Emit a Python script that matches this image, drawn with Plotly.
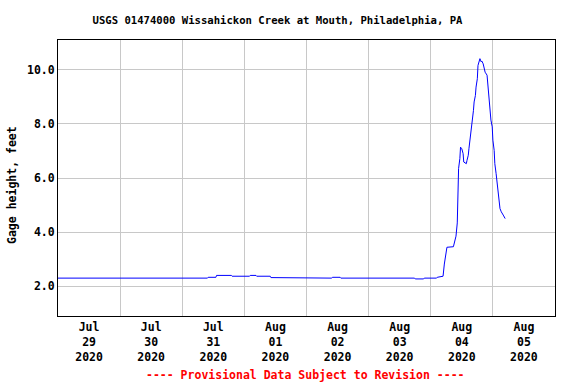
import plotly.graph_objects as go

# Gage height data (feet)
times = [
    "2020-07-29 00:00", "2020-07-31 09:45", "2020-07-31 10:00", "2020-07-31 13:00", "2020-07-31 13:15",
    "2020-07-31 19:00", "2020-07-31 19:15", "2020-08-01 02:00", "2020-08-01 02:15", "2020-08-01 04:30",
    "2020-08-01 04:45", "2020-08-01 10:00", "2020-08-01 10:15", "2020-08-01 17:30", "2020-08-01 17:45",
    "2020-08-02 09:45", "2020-08-02 10:00", "2020-08-02 13:00", "2020-08-02 13:15", "2020-08-03 17:45",
    "2020-08-03 18:00", "2020-08-03 21:15", "2020-08-03 21:30", "2020-08-04 02:15", "2020-08-04 02:30",
    "2020-08-04 04:45", "2020-08-04 05:15", "2020-08-04 06:15", "2020-08-04 08:45", "2020-08-04 09:45",
    "2020-08-04 10:15", "2020-08-04 10:30", "2020-08-04 10:45", "2020-08-04 11:15", "2020-08-04 11:30",
    "2020-08-04 12:00", "2020-08-04 12:30", "2020-08-04 12:45", "2020-08-04 13:45", "2020-08-04 14:00",
    "2020-08-04 14:30", "2020-08-04 14:45", "2020-08-04 15:15", "2020-08-04 15:30", "2020-08-04 16:00",
    "2020-08-04 16:30", "2020-08-04 16:45", "2020-08-04 17:15", "2020-08-04 17:30", "2020-08-04 18:00",
    "2020-08-04 18:15", "2020-08-04 18:45", "2020-08-04 19:00", "2020-08-04 19:30", "2020-08-04 19:45",
    "2020-08-04 20:15", "2020-08-04 20:30", "2020-08-04 21:00", "2020-08-04 21:45", "2020-08-04 22:00",
    "2020-08-04 22:15", "2020-08-04 22:30", "2020-08-04 23:00", "2020-08-04 23:15", "2020-08-04 23:45",
    "2020-08-05 00:00", "2020-08-05 00:30", "2020-08-05 00:45", "2020-08-05 01:15", "2020-08-05 01:45",
    "2020-08-05 02:00", "2020-08-05 02:30", "2020-08-05 02:45", "2020-08-05 03:15", "2020-08-05 03:30",
    "2020-08-05 04:00", "2020-08-05 04:45",
]
heights = [
    2.30, 2.30, 2.33, 2.33, 2.40,
    2.40, 2.37, 2.37, 2.40, 2.40,
    2.37, 2.37, 2.32, 2.32, 2.30,
    2.30, 2.33, 2.33, 2.30, 2.30,
    2.27, 2.27, 2.30, 2.30, 2.33,
    2.37, 2.82, 3.44, 3.46, 3.85,
    4.34, 5.06, 6.35, 6.72, 7.14,
    7.08, 6.90, 6.59, 6.53, 6.65,
    6.84, 7.08, 7.45, 7.82, 8.19,
    8.50, 8.81, 9.05, 9.36, 9.67,
    10.16, 10.35, 10.41, 10.29, 10.32,
    10.22, 10.10, 9.91, 9.80, 9.49,
    9.18, 8.88, 8.50, 8.14, 7.89,
    7.40, 7.02, 6.53, 6.16, 5.73,
    5.30, 5.06, 4.87, 4.75, 4.69,
    4.63, 4.50,
]

y_ticks = [2.0, 4.0, 6.0, 8.0, 10.0]
day_grid = ["2020-07-30", "2020-07-31", "2020-08-01", "2020-08-02",
            "2020-08-03", "2020-08-04", "2020-08-05"]
label_pos = ["2020-07-29 12:00", "2020-07-30 12:00", "2020-07-31 12:00", "2020-08-01 12:00",
             "2020-08-02 12:00", "2020-08-03 12:00", "2020-08-04 12:00", "2020-08-05 12:00"]
label_text = ["Jul<br>29<br>2020", "Jul<br>30<br>2020", "Jul<br>31<br>2020", "Aug<br>01<br>2020",
              "Aug<br>02<br>2020", "Aug<br>03<br>2020", "Aug<br>04<br>2020", "Aug<br>05<br>2020"]

FONT = "DejaVu Sans Mono"

fig = go.Figure()
fig.add_trace(go.Scatter(x=times, y=heights, mode="lines",
                         line=dict(color="#0000ff", width=1), showlegend=False))

fig.update_layout(
    width=576, height=384,
    margin=dict(l=58, r=21, t=40, b=68),
    paper_bgcolor="white", plot_bgcolor="white",
    font=dict(family=FONT, size=11.5, color="black", weight="bold"),
    title=dict(text="USGS 01474000 Wissahickon Creek at Mouth, Philadelphia, PA",
               x=0.4417, xref="paper", xanchor="center", y=0.946, yanchor="middle",
               font=dict(family=FONT, size=10.6, color="black", weight="bold")),
    xaxis=dict(
        range=["2020-07-29 00:00", "2020-08-06 00:00"],
        tickmode="array", tickvals=label_pos, ticktext=label_text,
        showgrid=False, ticks="", zeroline=False,
        showline=True, linecolor="black", linewidth=1, mirror=True,
        tickfont=dict(family=FONT, size=11.5, weight="bold"),
        minor=dict(tickmode="array", tickvals=day_grid, showgrid=True,
                   gridcolor="#c8c8c8", gridwidth=1, ticks=""),
    ),
    yaxis=dict(
        range=[0.9, 11.1],
        tickmode="array", tickvals=y_ticks, tickformat=".1f",
        showgrid=True, gridcolor="#c8c8c8", gridwidth=1, ticks="",
        zeroline=False,
        showline=True, linecolor="black", linewidth=1, mirror=True,
        tickfont=dict(family=FONT, size=11.5, weight="bold"),
    ),
    annotations=[
        dict(text="Gage height, feet", textangle=-90, x=-0.0926, y=0.4746,
             xref="paper", yref="paper", showarrow=False, xanchor="center", yanchor="middle",
             font=dict(family=FONT, size=11.5, color="black", weight="bold")),
        dict(text="---- Provisional Data Subject to Revision ----", x=0.4970, y=-0.2138,
             xref="paper", yref="paper", showarrow=False, xanchor="center", yanchor="middle",
             font=dict(family=FONT, size=11.5, color="red", weight="bold")),
    ],
)

fig.write_html("out.html", config={"displayModeBar": False},
               post_script="document.body.style.margin='0';")
